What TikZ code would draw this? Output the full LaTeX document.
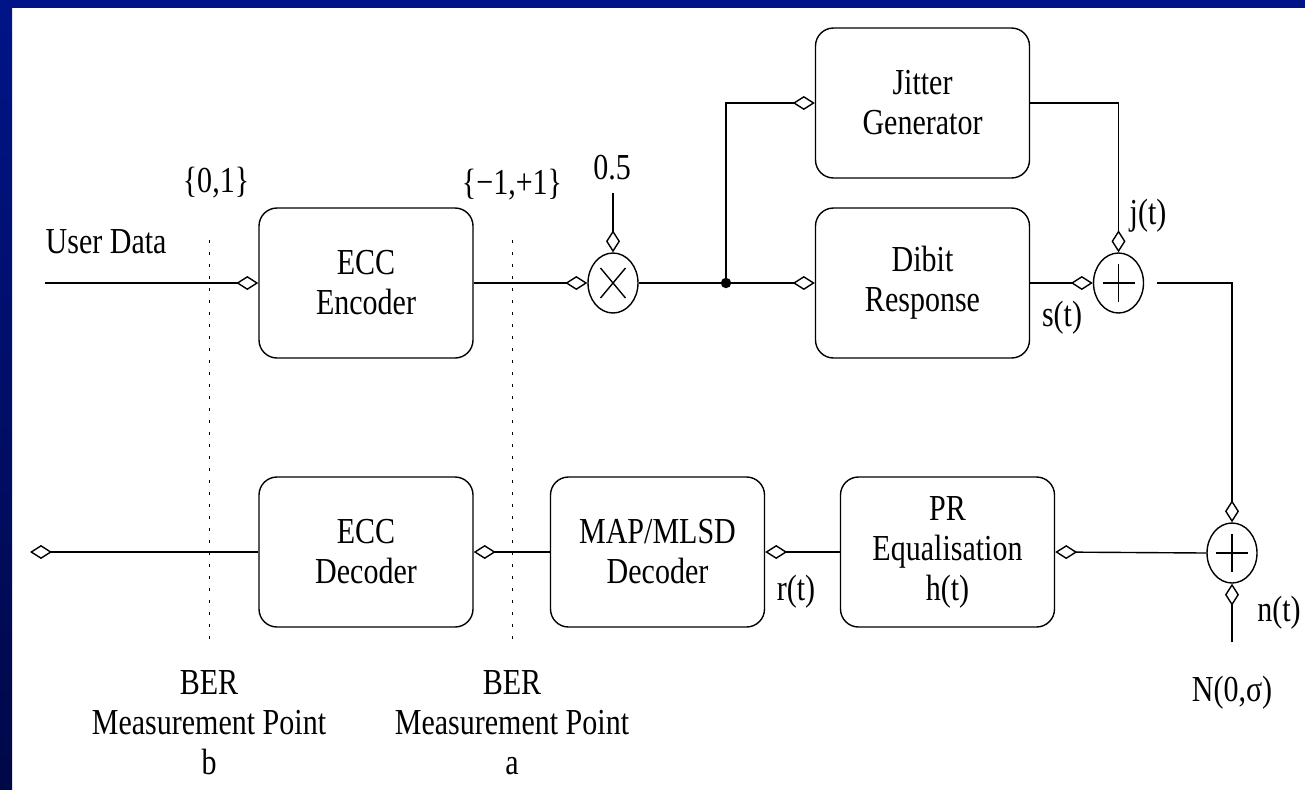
\documentclass[tikz,border=0pt]{standalone}
\usepackage{fontspec}
\setmainfont{Liberation Serif}[FakeStretch=0.82]
\usepackage{tikz}
\usetikzlibrary{arrows.meta,shapes.geometric,positioning}

\definecolor{bordoAlto}{RGB}{0,20,135}
\definecolor{bordoBasso}{RGB}{0,8,72}

\begin{document}
\begin{tikzpicture}[x=0.5pt, y=-0.5pt, line width=0.7pt, font=\fontsize{18.3}{20}\selectfont]

	\def\yAlto{283}
	\def\yBasso{552}

	\tikzset{
		blocco/.style={draw, rounded corners=9pt, minimum width=107pt, minimum height=75pt, align=center, inner sep=0pt},
		somma/.style={draw, ellipse, minimum width=25pt, minimum height=30pt, inner sep=0pt},
		freccia/.style={-{Diamond[open, length=11pt, width=7pt]}},
		misura/.style={line width=0.5pt, dash pattern=on 1.5pt off 4.5pt}
	}

	% Cornice blu
	\useasboundingbox (0,0) rectangle (1305,789);
	\fill[bordoAlto] (0,0) rectangle (1305,8);
	\shade[top color=bordoAlto, bottom color=bordoBasso] (0,0) rectangle (12,789);

	% --- BLOCCHI ---
	\node[blocco] (enc) at (366,\yAlto) {ECC\\Encoder};
	\node[blocco] (jit) at (922.5,103) {Jitter\\Generator};
	\node[blocco] (dib) at (922.5,\yAlto) {Dibit\\Response};

	\node[blocco] (dec) at (366,\yBasso) {ECC\\Decoder};
	\node[blocco] (map) at (657.5,\yBasso) {MAP/MLSD\\Decoder};
	\node[blocco] (pr)  at (947.5,\yBasso) {PR\\Equalisation\\h(t)};

	% --- MOLTIPLICATORE E SOMMATORI ---
	\node[somma] (mul) at (613,\yAlto) {};
	\draw ([shift={(-12.5,-15)}]mul.center) -- ([shift={(12.5,15)}]mul.center);
	\draw ([shift={(-12.5,15)}]mul.center) -- ([shift={(12.5,-15)}]mul.center);

	\node[somma] (s1) at (1118.5,\yAlto) {};
	\draw ([xshift=-8pt]s1.center) -- ([xshift=8pt]s1.center);
	\draw ([yshift=-9.5pt]s1.center) -- ([yshift=9.5pt]s1.center);

	\node[somma] (s2) at (1232,553) {};
	\draw ([xshift=-8pt]s2.center) -- ([xshift=8pt]s2.center);
	\draw ([yshift=-9.5pt]s2.center) -- ([yshift=9.5pt]s2.center);

	% punti liberi
	\coordinate (ingresso) at (45,\yAlto);
	\coordinate (uscita) at (30,\yBasso);
	\coordinate (mezzo) at (613,193);
	\coordinate (rumore) at (1232,642);
	\coordinate (s1out) at (1157,\yAlto);
	\coordinate (giunz) at (726,\yAlto);

	% --- COLLEGAMENTI ---
	\draw[freccia] (ingresso) -- (enc.west);
	\draw[freccia] (enc.east) -- (mul.west);
	\draw[freccia] (mezzo) -- (mul.north);
	\draw (mul.east) -- (giunz);
	\fill (giunz) circle (2.6pt);
	\draw[freccia] (giunz) -- (dib.west);
	\draw[freccia] (giunz) |- (jit.west);
	\draw[freccia] (jit.east) -| (s1.north);
	\draw[freccia] (dib.east) -- (s1.west);
	\draw[freccia] (s1out) -| (s2.north);
	\draw[freccia] (rumore) -- (s2.south);
	\draw[freccia] (s2.west) -- (pr.east);
	\draw[freccia] (pr.west) -- (map.east);
	\draw[freccia] (map.west) -- (dec.east);
	\draw[freccia] (dec.west) -- (uscita);

	% --- PUNTI DI MISURA ---
	\draw[misura] (209,240) -- (209,640);
	\draw[misura] (512,240) -- (512,640);

	% --- ETICHETTE ---
	\node[anchor=base west, inner sep=0pt] (utente) at (45,253) {User Data};
	\node (bin) at (216,183) {\{0,1\}};
	\node (bip) at (512,185) {\{−1,+1\}};
	\node (half) at (612,168) {0.5};
	\node (jt) at (1148,216) {j(t)};
	\node (st) at (1062,318) {s(t)};
	\node (rt) at (796,592) {r(t)};
	\node (nt) at (1279,613) {n(t)};
	\node (gauss) at (1232,693) {N(0,σ)};

	\node[align=center] (berb) at (209,723) {BER\\Measurement Point\\b};
	\node[align=center] (bera) at (512,723) {BER\\Measurement Point\\a};

\end{tikzpicture}
\end{document}
